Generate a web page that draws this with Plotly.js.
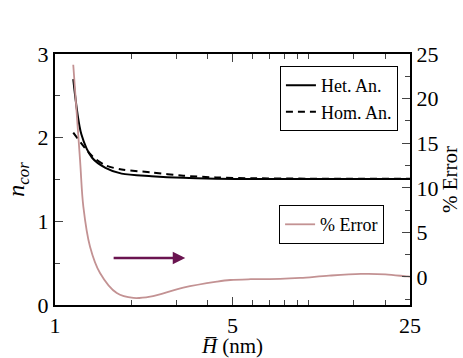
<!DOCTYPE html>
<html>
<head>
<meta charset="utf-8">
<script src="https://cdn.plot.ly/plotly-3.0.1.min.js"></script>
<style>
  body { margin: 0; background: #fff; }
  #chart { width: 463px; height: 358px; }
</style>
</head>
<body>
<div id="chart"></div>
<script>
// Heterogeneous anisotropy (solid)
const hetH = [1.18, 1.27, 1.4, 1.58, 1.83, 2.4, 3.2, 4.3, 6, 10, 25];
const hetN = [2.70, 2.04, 1.76, 1.64, 1.57, 1.54, 1.52, 1.51, 1.505, 1.505, 1.505];

// Homogeneous anisotropy (dashed)
const homH = [1.18, 1.4, 1.58, 1.83, 2.4, 3.2, 4.3, 6, 10, 25];
const homN = [2.06, 1.78, 1.67, 1.62, 1.585, 1.545, 1.525, 1.515, 1.51, 1.51];

// % Error (right axis)
const errH = [1.18, 1.255, 1.293, 1.374, 1.504, 1.751, 2.036, 2.37, 3.2, 4.34, 4.9, 5.9, 7.7, 9.25, 12, 16, 20, 24.4, 25];
const errE = [23.8, 13.1, 7.9, 3.4, 0.45, -1.8, -2.35, -2.2, -1.2, -0.53, -0.34, -0.25, -0.22, -0.11, 0.15, 0.34, 0.3, 0.06, 0.05];

const xTicks = [1, 5, 25];
const xMinor = [2, 3, 4, 6, 7, 8, 9, 10, 15, 20];

const serif = 'Liberation Serif';

const traces = [
    {
        x: hetH, y: hetN, type: 'scatter', mode: 'lines', name: 'Het. An.',
        line: { color: 'black', width: 2, shape: 'spline', smoothing: 0.8 }
    },
    {
        x: homH, y: homN, type: 'scatter', mode: 'lines', name: 'Hom. An.',
        line: { color: 'black', width: 2, dash: '7px,5px', shape: 'spline', smoothing: 0.8 }
    },
    {
        x: errH, y: errE, type: 'scatter', mode: 'lines', name: '% Error',
        yaxis: 'y2', legend: 'legend2', line: { color: '#c39293', width: 1.8, shape: 'spline' }
    }
];

const layout = {
    width: 463,
    height: 358,
    margin: { l: 55, r: 53, t: 54, b: 53 },
    paper_bgcolor: 'white',
    plot_bgcolor: 'white',
    font: { family: serif, color: 'black', size: 20 },
    showlegend: true,
    xaxis: {
        type: 'log',
        range: [0, Math.log10(25)],
        tickmode: 'array',
        tickvals: xTicks,
        ticktext: xTicks.map(String),
        ticks: 'inside', ticklen: 8, tickwidth: 1,
        minor: { tickmode: 'array', tickvals: xMinor, ticks: 'inside', ticklen: 5 },
        showline: true, linewidth: 2, linecolor: 'black', mirror: 'ticks',
        showgrid: false, zeroline: false,
        tickfont: { family: serif, size: 22, color: 'black' },
        title: { text: '<i>H\u0305</i> (nm)', font: { family: serif, size: 21, color: 'black' }, standoff: 5 }
    },
    yaxis: {
        range: [0, 3],
        dtick: 1,
        ticks: 'inside', ticklen: 8, tickwidth: 1,
        minor: { dtick: 0.5, ticks: 'inside', ticklen: 5 },
        showline: true, linewidth: 2, linecolor: 'black',
        showgrid: false, zeroline: false,
        tickfont: { family: serif, size: 22, color: 'black' },
        title: { text: '<i>n</i><sub><i>cor</i></sub>', font: { family: serif, size: 24, color: 'black' }, standoff: 6 }
    },
    yaxis2: {
        overlaying: 'y',
        side: 'right',
        range: [-3.14, 25],
        dtick: 5,
        ticks: 'inside', ticklen: 8, tickwidth: 1,
        minor: { dtick: 2.5, ticks: 'inside', ticklen: 5 },
        showline: true, linewidth: 2, linecolor: 'black',
        showgrid: false, zeroline: false,
        tickfont: { family: serif, size: 22, color: 'black' },
        title: { text: '% Error', font: { family: serif, size: 21, color: 'black' }, standoff: 4 }
    },
    legend: {
        x: 0.966, y: 0.952, xanchor: 'right', yanchor: 'top',
        bgcolor: 'white', bordercolor: 'black', borderwidth: 1,
        font: { family: serif, size: 18, color: 'black' }, tracegroupgap: 0, itemwidth: 30
    },
    legend2: {
        x: 0.927, y: 0.398, xanchor: 'right', yanchor: 'top',
        bgcolor: 'white', bordercolor: 'black', borderwidth: 1,
        font: { family: serif, size: 18, color: 'black' }, itemwidth: 30
    },
    annotations: [
        {
            x: 0.513, y: 0.563, ax: 0.225, ay: 0.563,
            xref: 'x', yref: 'y', axref: 'x', ayref: 'y',
            text: '', showarrow: true,
            arrowhead: 2, arrowsize: 1, arrowwidth: 2.5, arrowcolor: '#6a1450'
        }
    ]
};

Plotly.newPlot('chart', traces, layout, { displayModeBar: false, staticPlot: true });
</script>
</body>
</html>
